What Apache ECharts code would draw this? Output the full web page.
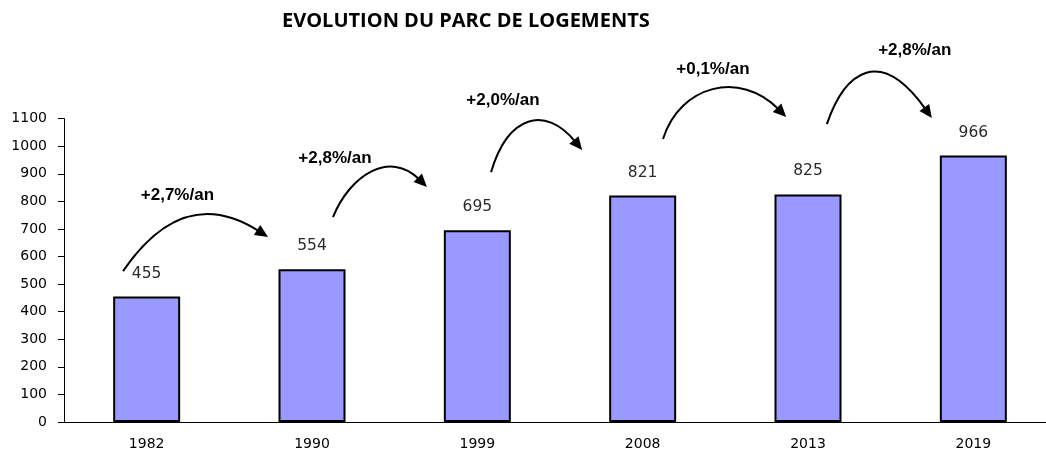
<!DOCTYPE html>
<html>
<head>
<meta charset="utf-8">
<script src="https://cdn.jsdelivr.net/npm/echarts@6/dist/echarts.min.js"></script>
<style>html,body{margin:0;padding:0;background:#fff;overflow:hidden}#c{width:1056px;height:452px}</style>
</head>
<body>
<div id="c"></div>
<script>
const categories = ['1982', '1990', '1999', '2008', '2013', '2019'];
const logements = [455, 554, 695, 821, 825, 966];
const yTicks = [0, 100, 200, 300, 400, 500, 600, 700, 800, 900, 1000, 1100];
const growthLabels = ['+2,7%/an', '+2,8%/an', '+2,0%/an', '+0,1%/an', '+2,8%/an'];
// annotation anchors in data space: [category position (index, fractional), value]
const growthLabelPos = [[0.186, 823], [1.139, 957], [2.155, 1167], [3.425, 1280], [4.646, 1349]];
const arrowCurves = [
  [[-0.143, 547], [0.111, 769], [0.383, 805], [0.734, 671]],
  [[1.127, 743], [1.230, 896], [1.472, 986], [1.695, 852]],
  [[2.083, 906], [2.186, 1113], [2.410, 1149], [2.634, 986]],
  [[3.123, 1026], [3.226, 1222], [3.589, 1276], [3.868, 1106]],
  [[4.114, 1080], [4.222, 1269], [4.434, 1367], [4.749, 1102]]
];

const chart = echarts.init(document.getElementById('c'), null, {renderer: 'canvas'});
chart.setOption({
  animation: false,
  backgroundColor: '#ffffff',
  title: {
    text: 'EVOLUTION DU PARC DE LOGEMENTS',
    left: 277, top: 6,
    textStyle: {fontFamily: 'Open Sans', fontWeight: 'bold', fontSize: 20, color: '#000'}
  },
  grid: {left: 64, right: 0, top: 118.6, bottom: 30, containLabel: false},
  xAxis: {
    type: 'category',
    data: categories,
    axisLine: {lineStyle: {color: '#000', width: 1}},
    axisTick: {length: 5, lineStyle: {color: '#000'}},
    axisLabel: {fontFamily: 'DejaVu Sans', fontSize: 14, color: '#000', margin: 15}
  },
  yAxis: {
    type: 'value',
    min: yTicks[0], max: yTicks[yTicks.length - 1], interval: 100,
    axisLine: {show: true, lineStyle: {color: '#000', width: 1}},
    axisTick: {show: true, length: 6, lineStyle: {color: '#000'}},
    splitLine: {show: false},
    axisLabel: {fontFamily: 'DejaVu Sans', fontSize: 14, color: '#000', margin: 17,
                formatter: function (v) { return String(v); }}
  },
  series: [{
    type: 'bar',
    data: logements,
    barWidth: 67,
    itemStyle: {color: '#9999FF', borderColor: '#000', borderWidth: 2},
    label: {show: true, position: 'top', distance: 15, fontFamily: 'DejaVu Sans', fontSize: 15.5, color: '#2a2a2a'}
  }]
});

function toPx(p) {
  const c0 = chart.convertToPixel({xAxisIndex: 0}, 0);
  const c1 = chart.convertToPixel({xAxisIndex: 0}, 1);
  return [c0 + p[0] * (c1 - c0), chart.convertToPixel({yAxisIndex: 0}, p[1])];
}

const elements = [];
arrowCurves.forEach(function (curve) {
  const P = curve.map(toPx);
  const dx = P[3][0] - P[2][0], dy = P[3][1] - P[2][1];
  const len = Math.sqrt(dx * dx + dy * dy);
  const ux = dx / len, uy = dy / len;
  const headL = 13, headW = 6;
  const tip = P[3];
  const base = [tip[0] - ux * headL, tip[1] - uy * headL];
  elements.push({
    type: 'bezierCurve',
    shape: {x1: P[0][0], y1: P[0][1], cpx1: P[1][0], cpy1: P[1][1], cpx2: P[2][0], cpy2: P[2][1],
            x2: base[0] + ux * 2, y2: base[1] + uy * 2},
    style: {stroke: '#000', lineWidth: 2, fill: null},
    z: 10
  });
  elements.push({
    type: 'polygon',
    shape: {points: [tip, [base[0] - uy * headW, base[1] + ux * headW], [base[0] + uy * headW, base[1] - ux * headW]]},
    style: {fill: '#000'},
    z: 10
  });
});
growthLabels.forEach(function (t, i) {
  const p = toPx(growthLabelPos[i]);
  elements.push({
    type: 'text', x: p[0], y: p[1],
    style: {text: t, fontFamily: 'Liberation Sans', fontWeight: 'bold', fontSize: 17, fill: '#000',
            align: 'center', verticalAlign: 'middle'},
    z: 10
  });
});
chart.setOption({graphic: {elements: elements}});
</script>
</body>
</html>
